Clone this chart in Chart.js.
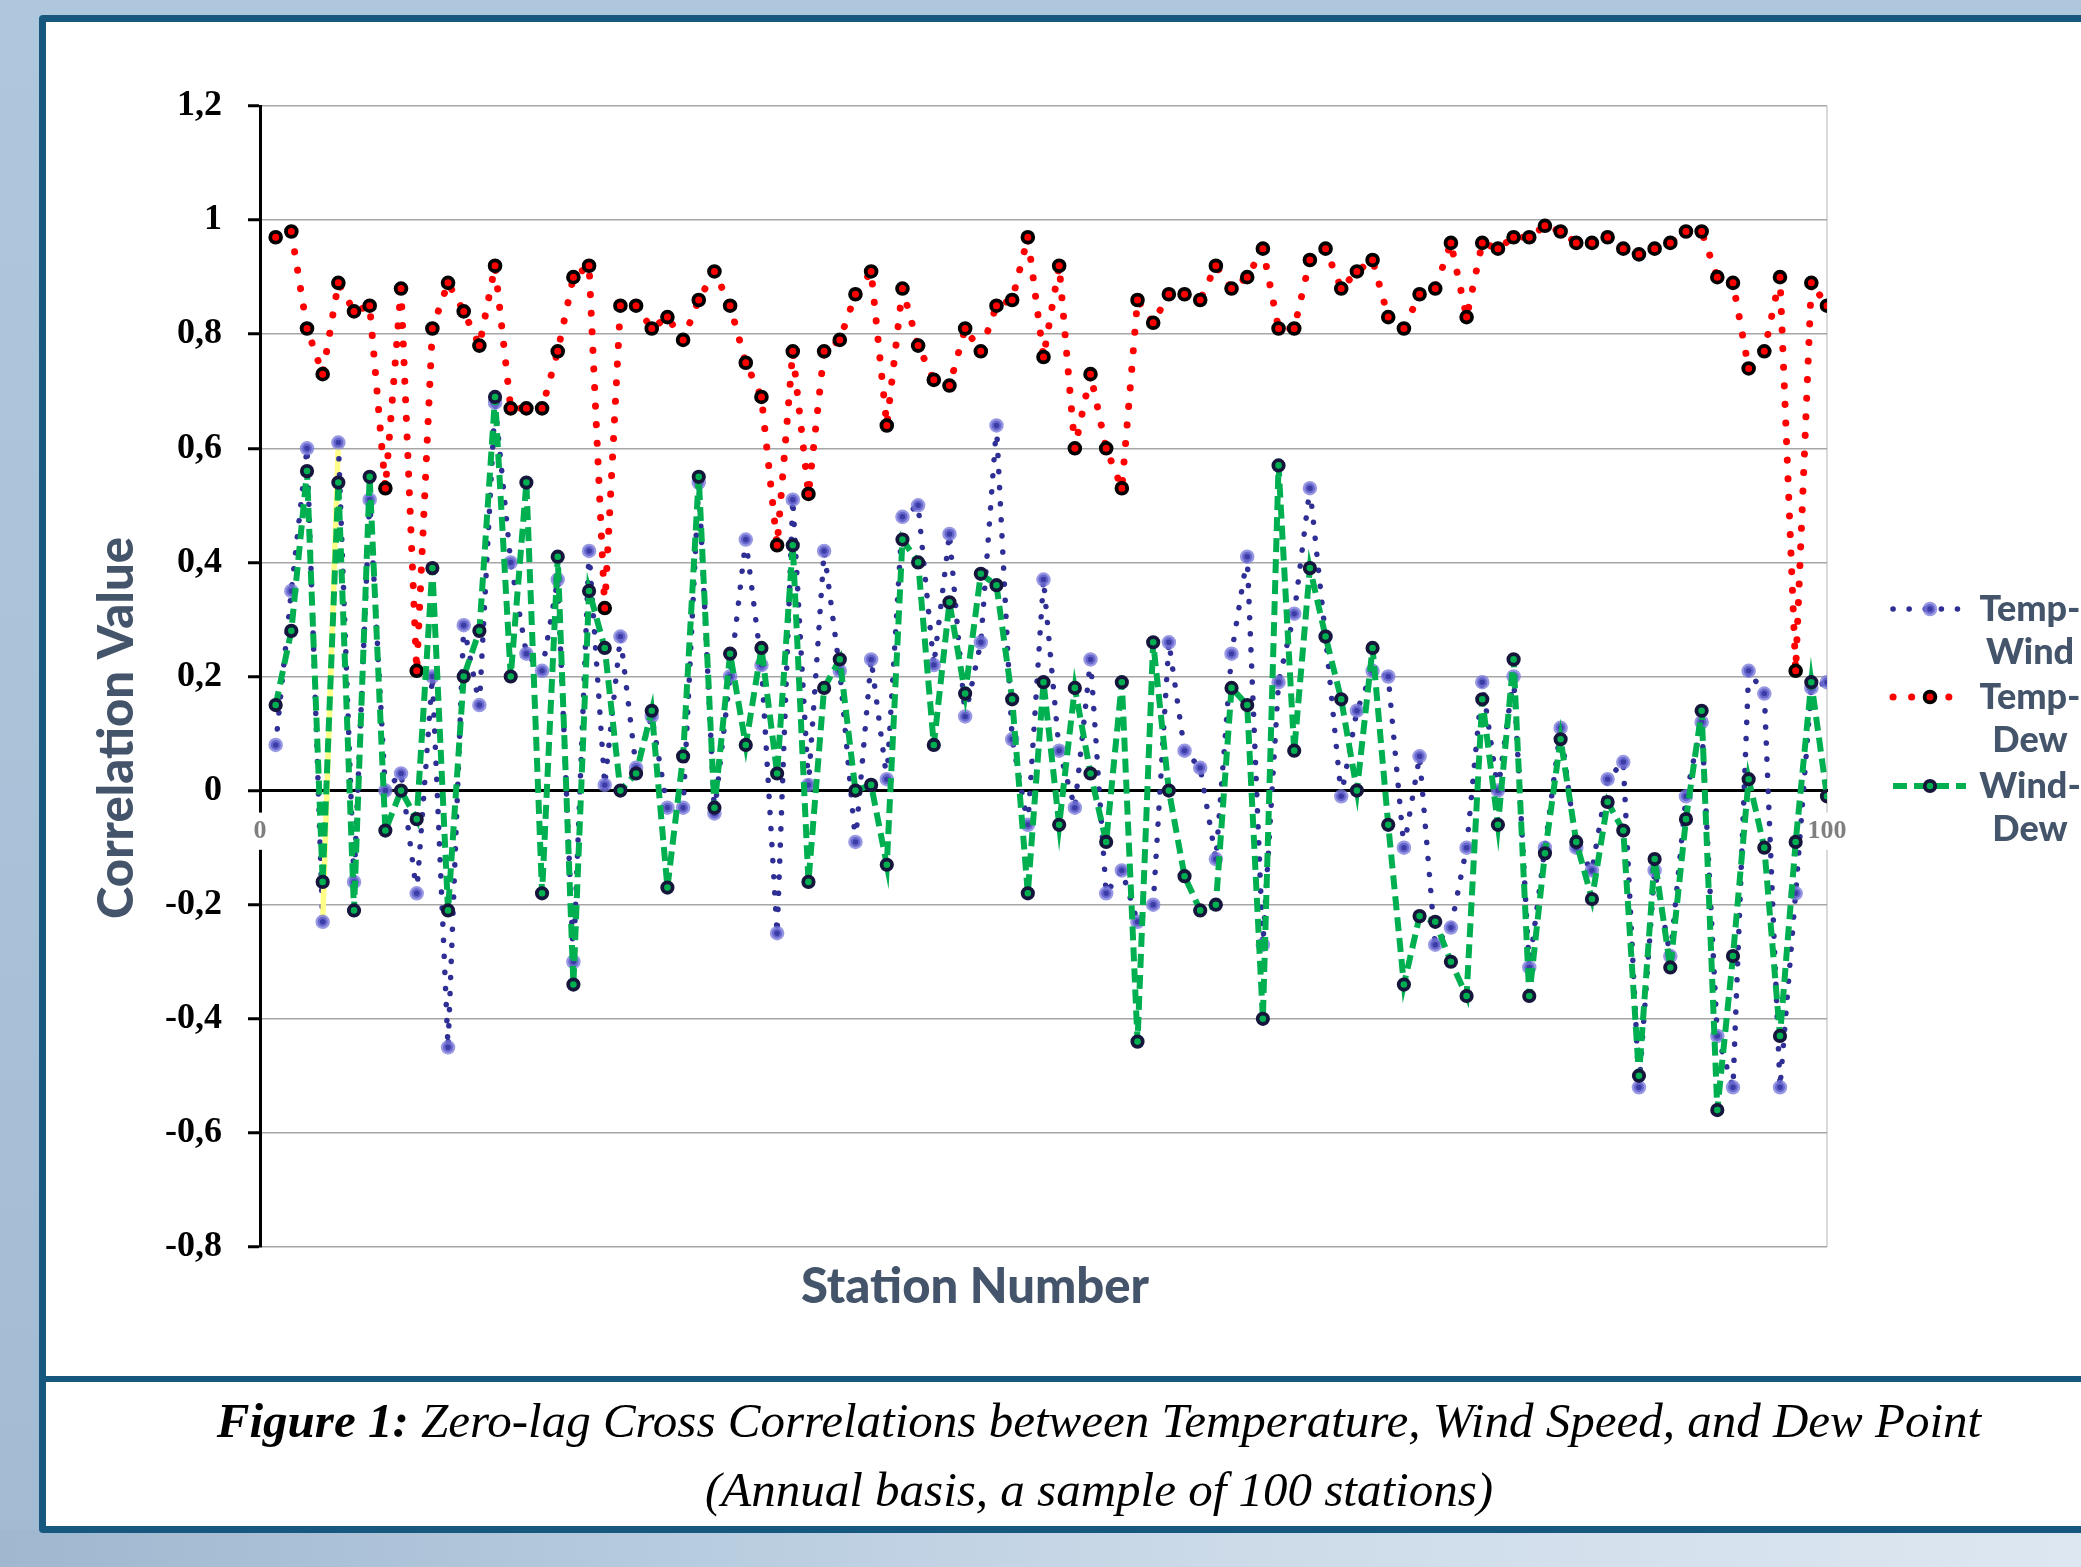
<!DOCTYPE html>
<html>
<head>
<meta charset="utf-8">
<title>Zero-lag Cross Correlations</title>
<script src="https://cdn.jsdelivr.net/npm/chart.js@4.4.1/dist/chart.umd.min.js"></script>
<style>
    html, body { margin: 0; padding: 0; }
    body {
        width: 2081px;
        height: 1567px;
        overflow: hidden;
        position: relative;
        background:
            linear-gradient(to right, #9fb7cf 0%, #b9cde0 35%, #cddbe9 60%, #dde7f1 100%) 0 1530px / 100% 40px no-repeat,
            linear-gradient(to bottom, #afc7dc 0%, #abc3d9 45%, #a2bbd3 100%);
    }
    #panel {
        position: absolute;
        left: 39px;
        top: 15px;
        width: 2140px;
        height: 1518px;
        box-sizing: border-box;
        border: 7px solid #17587f;
        border-radius: 4px;
        background: #fff;
    }
    #separator {
        position: absolute;
        left: 39px;
        top: 1376px;
        width: 2140px;
        height: 6px;
        background: #17587f;
    }
    #chart { position: absolute; left: 0; top: 0; }
    #caption {
        position: absolute;
        left: 39px;
        top: 1382px;
        width: 2120px;
        padding-top: 4px;
        text-align: center;
        font-family: 'Liberation Serif', serif;
        font-style: italic;
        font-size: 49px;
        line-height: 69px;
        color: #000;
    }
</style>
</head>
<body>
<div id="panel"></div>
<div id="separator"></div>
<canvas id="chart" width="2081" height="1370"></canvas>
<div id="caption">
    <b>Figure 1:</b> Zero-lag Cross Correlations between Temperature, Wind Speed, and Dew Point<br>
    (Annual basis, a sample of 100 stations)
</div>

<script>
const stations = [
    1, 2, 3, 4, 5, 6, 7, 8, 9, 10, 11, 12, 13, 14, 15, 16, 17, 18, 19, 20,
    21, 22, 23, 24, 25, 26, 27, 28, 29, 30, 31, 32, 33, 34, 35, 36, 37, 38, 39, 40,
    41, 42, 43, 44, 45, 46, 47, 48, 49, 50, 51, 52, 53, 54, 55, 56, 57, 58, 59, 60,
    61, 62, 63, 64, 65, 66, 67, 68, 69, 70, 71, 72, 73, 74, 75, 76, 77, 78, 79, 80,
    81, 82, 83, 84, 85, 86, 87, 88, 89, 90, 91, 92, 93, 94, 95, 96, 97, 98, 99, 100
];

const tempWind = [
    0.08, 0.35, 0.60, -0.23, 0.61, -0.16, 0.51, 0.00, 0.03, -0.18,
    0.20, -0.45, 0.29, 0.15, 0.68, 0.40, 0.24, 0.21, 0.37, -0.30,
    0.42, 0.01, 0.27, 0.04, 0.13, -0.03, -0.03, 0.54, -0.04, 0.20,
    0.44, 0.22, -0.25, 0.51, 0.01, 0.42, 0.21, -0.09, 0.23, 0.02,
    0.48, 0.50, 0.22, 0.45, 0.13, 0.26, 0.64, 0.09, -0.06, 0.37,
    0.07, -0.03, 0.23, -0.18, -0.14, -0.23, -0.20, 0.26, 0.07, 0.04,
    -0.12, 0.24, 0.41, -0.27, 0.19, 0.31, 0.53, 0.27, -0.01, 0.14,
    0.21, 0.20, -0.10, 0.06, -0.27, -0.24, -0.10, 0.19, 0.00, 0.20,
    -0.31, -0.10, 0.11, -0.10, -0.14, 0.02, 0.05, -0.52, -0.14, -0.29,
    -0.01, 0.12, -0.43, -0.52, 0.21, 0.17, -0.52, -0.18, 0.18, 0.19
];

const tempDew = [
    0.97, 0.98, 0.81, 0.73, 0.89, 0.84, 0.85, 0.53, 0.88, 0.21,
    0.81, 0.89, 0.84, 0.78, 0.92, 0.67, 0.67, 0.67, 0.77, 0.90,
    0.92, 0.32, 0.85, 0.85, 0.81, 0.83, 0.79, 0.86, 0.91, 0.85,
    0.75, 0.69, 0.43, 0.77, 0.52, 0.77, 0.79, 0.87, 0.91, 0.64,
    0.88, 0.78, 0.72, 0.71, 0.81, 0.77, 0.85, 0.86, 0.97, 0.76,
    0.92, 0.60, 0.73, 0.60, 0.53, 0.86, 0.82, 0.87, 0.87, 0.86,
    0.92, 0.88, 0.90, 0.95, 0.81, 0.81, 0.93, 0.95, 0.88, 0.91,
    0.93, 0.83, 0.81, 0.87, 0.88, 0.96, 0.83, 0.96, 0.95, 0.97,
    0.97, 0.99, 0.98, 0.96, 0.96, 0.97, 0.95, 0.94, 0.95, 0.96,
    0.98, 0.98, 0.90, 0.89, 0.74, 0.77, 0.90, 0.21, 0.89, 0.85
];

const windDew = [
    0.15, 0.28, 0.56, -0.16, 0.54, -0.21, 0.55, -0.07, 0.00, -0.05,
    0.39, -0.21, 0.20, 0.28, 0.69, 0.20, 0.54, -0.18, 0.41, -0.34,
    0.35, 0.25, 0.00, 0.03, 0.14, -0.17, 0.06, 0.55, -0.03, 0.24,
    0.08, 0.25, 0.03, 0.43, -0.16, 0.18, 0.23, 0.00, 0.01, -0.13,
    0.44, 0.40, 0.08, 0.33, 0.17, 0.38, 0.36, 0.16, -0.18, 0.19,
    -0.06, 0.18, 0.03, -0.09, 0.19, -0.44, 0.26, 0.00, -0.15, -0.21,
    -0.20, 0.18, 0.15, -0.40, 0.57, 0.07, 0.39, 0.27, 0.16, 0.00,
    0.25, -0.06, -0.34, -0.22, -0.23, -0.30, -0.36, 0.16, -0.06, 0.23,
    -0.36, -0.11, 0.09, -0.09, -0.19, -0.02, -0.07, -0.50, -0.12, -0.31,
    -0.05, 0.14, -0.56, -0.29, 0.02, -0.10, -0.43, -0.09, 0.19, -0.01
];

const seriesNames = ['Temp-Wind', 'Temp-Dew', 'Wind-Dew'];
const yTickLabels = ['-0,8', '-0,6', '-0,4', '-0,2', '0', '0,2', '0,4', '0,6', '0,8', '1', '1,2'];
const xTickLabels = ['0', '100'];

function toPoints(values) {
    return values.map((v, i) => ({ x: stations[i], y: v }));
}

// one odd segment of the Temp-Wind line is highlighted in the original
function isHighlighted(ctx) {
    return ctx.p0DataIndex === 3;
}

const titleColor = '#44546a';

// axis titles and the legend are placed by hand, like in the original figure
const decorations = {
    id: 'decorations',
    afterDraw(chart) {
        const ctx = chart.ctx;
        ctx.save();
        ctx.fillStyle = titleColor;
        ctx.textAlign = 'center';
        ctx.textBaseline = 'middle';
        ctx.font = '900 49px Lato';
        ctx.fillText('Station Number', 975, 1287);
        ctx.save();
        ctx.translate(117, 728);
        ctx.rotate(-Math.PI / 2);
        ctx.fillText('Correlation Value', 0, 0);
        ctx.restore();

        const rows = [609, 697, 786];
        const legendOrder = [0, 1, 2];
        legendOrder.forEach((dsIndex, r) => {
            const ds = chart.data.datasets[dsIndex];
            const y = rows[r];
            ctx.save();
            ctx.strokeStyle = ds.borderColor;
            ctx.lineWidth = ds.borderWidth;
            ctx.lineCap = ds.borderCapStyle;
            ctx.setLineDash(ds.borderDash);
            ctx.beginPath();
            ctx.moveTo(1893, y);
            ctx.lineTo(1966, y);
            ctx.stroke();
            ctx.setLineDash([]);
            ctx.beginPath();
            ctx.arc(1930, y, ds.pointRadius, 0, Math.PI * 2);
            ctx.fillStyle = ds.pointBackgroundColor;
            ctx.fill();
            if (ds.pointBorderWidth > 0) {
                ctx.lineWidth = ds.pointBorderWidth;
                ctx.strokeStyle = ds.pointBorderColor;
                ctx.stroke();
            }
            ctx.restore();

            const parts = ds.label.split('-');
            ctx.font = '900 36px Lato';
            ctx.fillStyle = titleColor;
            ctx.fillText(parts[0] + '-', 2030, y);
            ctx.fillText(parts[1], 2030, y + 43);
        });
        ctx.restore();
    }
};

const canvas = document.getElementById('chart');

new Chart(canvas.getContext('2d'), {
    type: 'line',
    data: {
        datasets: [
            {
                label: seriesNames[0],
                data: toPoints(tempWind),
                order: 3,
                borderColor: '#2e2e94',
                borderWidth: 5.5,
                borderDash: [0.1, 16],
                borderCapStyle: 'round',
                pointRadius: 5,
                pointBorderWidth: 4.5,
                pointBackgroundColor: '#3c3ca6',
                pointBorderColor: 'rgba(118, 118, 218, 0.75)',
                segment: {
                    borderColor: ctx => isHighlighted(ctx) ? '#ffff88' : undefined,
                    borderDash: ctx => isHighlighted(ctx) ? [] : undefined
                }
            },
            {
                label: seriesNames[1],
                data: toPoints(tempDew),
                order: 2,
                borderColor: '#ff0000',
                borderWidth: 7,
                borderDash: [0.1, 18.5],
                borderCapStyle: 'round',
                pointRadius: 5.4,
                pointBorderWidth: 3.8,
                pointBackgroundColor: '#ff0000',
                pointBorderColor: '#000000'
            },
            {
                label: seriesNames[2],
                data: toPoints(windDew),
                order: 1,
                borderColor: '#00b050',
                borderWidth: 6,
                borderDash: [14, 7],
                borderCapStyle: 'butt',
                pointRadius: 5.2,
                pointBorderWidth: 3.8,
                pointBackgroundColor: '#00b050',
                pointBorderColor: '#16163c'
            }
        ]
    },
    options: {
        responsive: false,
        animation: false,
        devicePixelRatio: 1,
        layout: {
            padding: { left: 0, top: 106, right: 254, bottom: 123 }
        },
        elements: {
            line: { tension: 0, fill: false }
        },
        plugins: {
            legend: { display: false },
            tooltip: { enabled: false }
        },
        scales: {
            x: {
                type: 'linear',
                position: { y: 0 },
                min: 0,
                max: 100,
                grid: {
                    color: ctx => ctx.tick && ctx.tick.value === 100 ? '#d9d9d9' : 'rgba(0, 0, 0, 0)',
                    lineWidth: 2,
                    drawTicks: false
                },
                border: { color: '#000', width: 3 },
                ticks: {
                    stepSize: 100,
                    padding: 25,
                    color: '#7f7f7f',
                    font: { family: 'Liberation Serif', size: 26, weight: 'bold' },
                    showLabelBackdrop: true,
                    backdropColor: '#ffffff',
                    backdropPadding: 3,
                    callback: (value, index) => xTickLabels[index]
                }
            },
            y: {
                type: 'linear',
                position: 'left',
                min: -0.8,
                max: 1.2,
                afterFit: scale => { scale.width = 260; },
                grid: {
                    color: '#a6a6a6',
                    lineWidth: 1.5,
                    drawTicks: true,
                    tickLength: 12,
                    tickWidth: 3,
                    tickColor: '#000'
                },
                border: { color: '#000', width: 3, z: -1 },
                ticks: {
                    stepSize: 0.2,
                    padding: 26,
                    color: '#000',
                    font: { family: 'Liberation Serif', size: 36, weight: 'bold' },
                    callback: (value, index) => yTickLabels[index]
                }
            }
        }
    },
    plugins: [decorations]
});
</script>
</body>
</html>
